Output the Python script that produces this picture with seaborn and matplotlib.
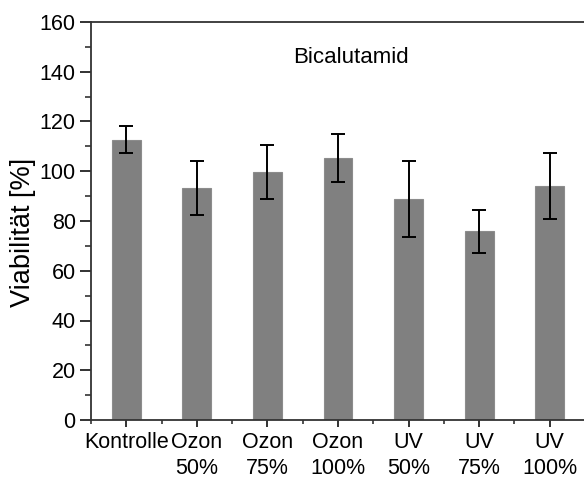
import matplotlib
matplotlib.use("Agg")
import matplotlib.pyplot as plt
import seaborn as sns
import pandas as pd
from matplotlib.ticker import MultipleLocator, FixedLocator

categories = ["Kontrolle", "Ozon\n50%", "Ozon\n75%", "Ozon\n100%", "UV\n50%", "UV\n75%", "UV\n100%"]
viability = [112.6, 93.3, 99.7, 105.3, 88.8, 75.8, 94.0]
std_dev = [5.4, 10.8, 10.9, 9.5, 15.3, 8.8, 13.2]
title_text = "Bicalutamid"
y_label = "Viabilität [%]"

sns.set_style("ticks")
plt.rcParams["font.family"] = ["Liberation Sans", "DejaVu Sans"]
plt.rcParams["font.size"] = 15.5
plt.rcParams["text.color"] = "black"
plt.rcParams["axes.labelcolor"] = "black"
plt.rcParams["xtick.color"] = "#222222"
plt.rcParams["ytick.color"] = "#222222"
plt.rcParams["xtick.labelcolor"] = "black"
plt.rcParams["ytick.labelcolor"] = "black"

df = pd.DataFrame({"group": categories, "value": viability})

fig = plt.figure(figsize=(5.84, 4.83), dpi=100)
ax = fig.add_axes([91 / 584, 63 / 483, 494 / 584, 398 / 483])

sns.barplot(data=df, x="group", y="value", color="#808080", saturation=1,
            width=0.41, edgecolor="#8c8c8c", linewidth=0.8, ax=ax, errorbar=None)
ax.errorbar(range(len(categories)), viability, yerr=std_dev, fmt="none",
            ecolor="black", elinewidth=1.4, capsize=5, capthick=1.4, zorder=5)

ax.set_xlim(-0.5, 6.5)
ax.set_ylim(0, 160)
ax.yaxis.set_major_locator(MultipleLocator(20))
ax.yaxis.set_minor_locator(MultipleLocator(10))
ax.xaxis.set_minor_locator(FixedLocator([i + 0.5 for i in range(-1, 7)]))

ax.set_xlabel("")
ax.set_ylabel(y_label, fontsize=19.5, va="center")
ax.yaxis.set_label_coords(-0.138, 0.472)
ax.set_xticks(range(len(categories)))
ax.set_xticklabels(categories, linespacing=1.3)

for side in ["left", "bottom", "top", "right"]:
    ax.spines[side].set_visible(True)
    ax.spines[side].set_linewidth(1.3)
    ax.spines[side].set_color("#333333")

ax.tick_params(axis="y", which="major", direction="out", length=8, width=1.3, labelsize=15.5, pad=3)
ax.tick_params(axis="y", which="minor", direction="out", length=4, width=1.1)
ax.tick_params(axis="x", which="major", direction="out", length=5, width=1.3, labelsize=15.5, pad=4)
ax.tick_params(axis="x", which="minor", direction="out", length=3, width=1.1)

ax.text(0.409, 0.912, title_text, transform=ax.transAxes, fontsize=16,
        ha="left", va="center")

fig.savefig("out.png", dpi=100)
